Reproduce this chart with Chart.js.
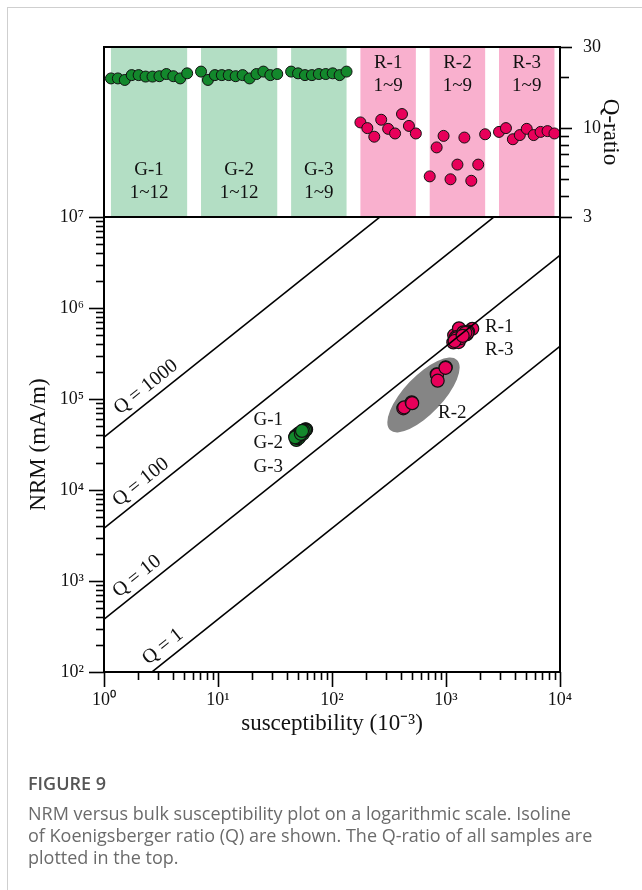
<!DOCTYPE html>
<html>
<head>
<meta charset="utf-8">
<script src="https://cdn.jsdelivr.net/npm/chart.js@4.4.1/dist/chart.umd.min.js"></script>
<style>
  body { margin: 0; background: #fff; }
  #page { position: relative; width: 642px; height: 890px; overflow: hidden; background: #fff; }
  #page canvas { position: absolute; left: 0; top: 0; }
  .frame { position: absolute; left: 7px; top: 7px; width: 700px; height: 950px; border-left: 1px solid #cfcfcf; border-top: 1px solid #cfcfcf; }
  .caption { position: absolute; left: 28px; top: 772px; width: 614px; white-space: nowrap; font-family: "Open Sans", sans-serif; font-size: 18px; line-height: 22px; color: #6b6b6b; }
  .caption .fig { font-weight: 600; color: #555; margin-bottom: 8px; }
</style>
</head>
<body>
<div id="page">
  <div class="frame"></div>
  <canvas id="qRatio" width="642" height="890"></canvas>
  <canvas id="nrmPlot" width="642" height="890"></canvas>
  <div class="caption">
    <div class="fig">FIGURE 9</div>
    NRM versus bulk susceptibility plot on a logarithmic scale. Isoline<br>
    of Koenigsberger ratio (Q) are shown. The Q-ratio of all samples are<br>
    plotted in the top.
  </div>
</div>
<script>
// sites and sample ranges
const sites = ['G-1', 'G-2', 'G-3', 'R-1', 'R-2', 'R-3'];
const siteRanges = ['1~12', '1~12', '1~9', '1~9', '1~9', '1~9'];

// Q-ratio per sample
const qG1 = [19.6, 19.6, 19.2, 20.5, 20.5, 20.1, 20.1, 20.2, 20.8, 20.2, 19.6, 21.0];
const qG2 = [21.5, 19.2, 20.5, 20.5, 20.5, 20.2, 20.5, 19.6, 20.8, 21.5, 20.5, 20.8];
const qG3 = [21.5, 21.0, 20.5, 20.5, 20.8, 20.8, 21.0, 20.5, 21.5];
const qR1 = [10.8, 10.0, 8.9, 11.2, 9.9, 9.3, 12.1, 10.3, 9.3];
const qR2 = [5.2, 7.7, 9.0, 5.0, 6.1, 8.8, 4.9, 6.1, 9.2];
const qR3 = [9.5, 10.0, 8.6, 9.1, 9.9, 9.1, 9.5, 9.6, 9.3];

// bulk susceptibility (10^-3 SI) and NRM (mA/m)
const suscG = [50.1, 52.3, 48.7, 55.0, 57.2, 51.4, 49.5, 53.8, 58.6, 56.1, 50.8, 54.2,
               47.9, 51.0, 53.1, 56.8, 59.3, 49.2, 52.7, 55.6, 57.9, 50.4, 48.5, 53.5,
               51.8, 54.9, 58.1, 49.9, 52.0, 56.4, 47.5, 53.3, 54.6];
const nrmG  = [3.73e4, 3.90e4, 3.55e4, 4.28e4, 4.46e4, 3.93e4, 3.78e4, 4.13e4, 4.63e4, 4.31e4, 3.78e4, 4.33e4,
               3.91e4, 3.72e4, 4.14e4, 4.42e4, 4.62e4, 3.78e4, 4.11e4, 4.14e4, 4.58e4, 4.12e4, 3.78e4, 4.23e4,
               4.23e4, 4.38e4, 4.53e4, 3.89e4, 4.11e4, 4.46e4, 3.79e4, 4.15e4, 4.46e4];
const suscR2 = [422, 430, 500, 505, 829, 835, 845, 994, 990];
const nrmR2  = [7.9e4, 8.1e4, 9.2e4, 9.0e4, 1.87e5, 1.85e5, 1.59e5, 2.23e5, 2.20e5];
const suscR13 = [1250, 1380, 1520, 1180, 1450, 1700, 1300, 1220, 1560,
                 1160, 1420, 1290, 1540, 1230, 1350, 1480, 1190, 1400];
const nrmR13  = [5.13e5, 5.24e5, 5.14e5, 5.02e5, 5.45e5, 5.90e5, 5.98e5, 4.78e5, 5.51e5,
                 4.19e5, 5.40e5, 4.22e5, 5.33e5, 4.63e5, 4.67e5, 5.34e5, 4.34e5, 4.95e5];

// Koenigsberger isolines, Q = NRM / (k * H)
const qLines = [1, 10, 100, 1000];
const fieldH = 38; // A/m

const serif = "'Liberation Serif', 'Times New Roman', serif";
const GREEN = '#13882c';
const PINK = '#e8005a';

const SUP = { '0': '\u2070', '1': '\u00b9', '2': '\u00b2', '3': '\u00b3', '4': '\u2074',
              '5': '\u2075', '6': '\u2076', '7': '\u2077', '8': '\u2078', '9': '\u2079', '-': '\u207b' };
const sup = s => String(s).split('').map(c => SUP[c]).join('');

function logTicks(lo, hi) {
  const out = [];
  for (let d = lo; d < hi; d++) {
    for (let m = 1; m < 10; m++) out.push(m * Math.pow(10, d));
  }
  out.push(Math.pow(10, hi));
  return out;
}
const isDecade = v => Math.abs(Math.log10(v) - Math.round(Math.log10(v))) < 1e-9;
const decadeLabel = v => isDecade(v) ? '10' + sup(Math.round(Math.log10(v))) : '';

// tick marks drawn outside the plot box, long on decades
function drawTicks(ctx, area, scale, side, values, isMajor, majorLen, minorLen) {
  ctx.save();
  ctx.strokeStyle = '#000';
  ctx.lineWidth = 1.6;
  values.forEach(v => {
    const p = Math.round(scale.getPixelForValue(v)) + 0.5;
    const len = isMajor(v) ? majorLen : minorLen;
    ctx.beginPath();
    if (side === 'left') { ctx.moveTo(area.left, p); ctx.lineTo(area.left - len, p); }
    if (side === 'right') { ctx.moveTo(area.right, p); ctx.lineTo(area.right + len, p); }
    if (side === 'bottom') { ctx.moveTo(p, area.bottom); ctx.lineTo(p, area.bottom + len); }
    ctx.stroke();
  });
  ctx.restore();
}

function drawBox(ctx, area) {
  ctx.save();
  ctx.strokeStyle = '#000';
  ctx.lineWidth = 2;
  ctx.strokeRect(area.left, area.top, area.right - area.left, area.bottom - area.top);
  ctx.restore();
}

// ---------- top panel: Q-ratio by sample ----------
const qSites = [qG1, qG2, qG3, qR1, qR2, qR3];
const slotStart = [];
let nextSlot = 1;
qSites.forEach(q => { slotStart.push(nextSlot); nextSlot += q.length + 1; });

const qPoints = (from, to) => qSites.slice(from, to).flatMap((q, i) =>
  q.map((v, j) => ({ x: slotStart[from + i] + j, y: v })));

const qTickVals = [3, 4, 5, 6, 7, 8, 9, 10, 20, 30];
const qLabelled = [3, 10, 30];

const sitePanels = {
  id: 'sitePanels',
  beforeDatasetsDraw(chart) {
    const { ctx, chartArea: a, scales: { x, y } } = chart;
    ctx.save();
    qSites.forEach((q, i) => {
      const x0 = x.getPixelForValue(slotStart[i]);
      const x1 = x.getPixelForValue(slotStart[i] + q.length - 1);
      ctx.fillStyle = i < 3 ? '#b3dec4' : '#f9b0ce';
      ctx.fillRect(x0, a.top, x1 - x0, a.bottom - a.top);
      const cx = (x0 + x1) / 2;
      const rows = i < 3 ? [5.7, 4.15] : [24.3, 17.6];
      ctx.fillStyle = '#111';
      ctx.font = '19px ' + serif;
      ctx.textAlign = 'center';
      ctx.textBaseline = 'middle';
      ctx.fillText(sites[i], cx, y.getPixelForValue(rows[0]));
      ctx.fillText(siteRanges[i], cx, y.getPixelForValue(rows[1]));
    });
    ctx.restore();
  },
  afterDraw(chart) {
    const { ctx, chartArea: a, scales: { y } } = chart;
    drawBox(ctx, a);
    drawTicks(ctx, a, y, 'right', qTickVals, v => qLabelled.includes(v), 12, 9);
  }
};

new Chart(document.getElementById('qRatio'), {
  type: 'scatter',
  data: {
    datasets: [
      { data: qPoints(0, 3), backgroundColor: GREEN, borderColor: '#111', borderWidth: 1, pointRadius: 5.5 },
      { data: qPoints(3, 6), backgroundColor: PINK, borderColor: '#111', borderWidth: 1, pointRadius: 5.5 }
    ]
  },
  options: {
    responsive: false,
    animation: false,
    layout: { padding: { left: 104, top: 47, bottom: 673, right: 14 } },
    plugins: { legend: { display: false }, tooltip: { enabled: false } },
    scales: {
      x: { type: 'linear', min: 0, max: 65.8, display: false },
      y: {
        type: 'logarithmic', position: 'right', min: 3, max: 30,
        afterBuildTicks: s => { s.ticks = qTickVals.map(v => ({ value: v })); },
        afterFit: s => { s.width = 68; },
        grid: { display: false },
        border: { display: false },
        ticks: {
          padding: 15, autoSkip: false, color: '#111',
          font: { family: serif, size: 18 },
          callback: v => qLabelled.includes(v) ? String(v) : ''
        },
        title: { display: true, text: 'Q-ratio', color: '#111', font: { family: serif, size: 23 }, padding: { top: 4 } }
      }
    }
  },
  plugins: [sitePanels]
});

// ---------- main panel: NRM versus susceptibility ----------
const xTickVals = logTicks(0, 4);
const yTickVals = logTicks(2, 7);

const isolines = qLines.map(q => ({
  data: [{ x: 0.5, y: q * fieldH * 0.5 }, { x: 2e4, y: q * fieldH * 2e4 }],
  showLine: true, pointRadius: 0, borderColor: '#000', borderWidth: 1.6
}));

const isoLabelAt = { 1: 3.87, 10: 2.29, 100: 2.48, 1000: 2.75 };
const clusterLabels = [
  { text: 'G-1', k: 37.2, nrm: 5.87e4, align: 'right' },
  { text: 'G-2', k: 37.2, nrm: 3.28e4, align: 'right' },
  { text: 'G-3', k: 37.2, nrm: 1.79e4, align: 'right' },
  { text: 'R-1', k: 2198, nrm: 6.24e5, align: 'left' },
  { text: 'R-3', k: 2198, nrm: 3.45e5, align: 'left' },
  { text: 'R-2', k: 851, nrm: 7.01e4, align: 'left' }
];
const r2Ellipse = { from: [323, 4.56e4], to: [1248, 2.69e5], halfWidth: 19 };

const nrmDecor = {
  id: 'nrmDecor',
  beforeDatasetsDraw(chart) {
    const { ctx, scales: { x, y } } = chart;
    const x0 = x.getPixelForValue(r2Ellipse.from[0]), y0 = y.getPixelForValue(r2Ellipse.from[1]);
    const x1 = x.getPixelForValue(r2Ellipse.to[0]), y1 = y.getPixelForValue(r2Ellipse.to[1]);
    ctx.save();
    ctx.fillStyle = '#858585';
    ctx.beginPath();
    ctx.ellipse((x0 + x1) / 2, (y0 + y1) / 2, Math.hypot(x1 - x0, y1 - y0) / 2, r2Ellipse.halfWidth,
                Math.atan2(y1 - y0, x1 - x0), 0, Math.PI * 2);
    ctx.fill();
    ctx.restore();
  },
  afterDraw(chart) {
    const { ctx, chartArea: a, scales: { x, y } } = chart;
    ctx.save();
    ctx.fillStyle = '#111';
    ctx.font = '20px ' + serif;
    ctx.textAlign = 'center';
    ctx.textBaseline = 'middle';
    qLines.forEach(q => {
      const k = isoLabelAt[q];
      const px = x.getPixelForValue(k), py = y.getPixelForValue(q * fieldH * k);
      const qx = x.getPixelForValue(k * 10), qy = y.getPixelForValue(q * fieldH * k * 10);
      const ang = Math.atan2(qy - py, qx - px);
      ctx.save();
      ctx.translate(px + 13 * Math.sin(ang), py - 13 * Math.cos(ang));
      ctx.rotate(ang);
      ctx.fillText('Q = ' + q, 0, 0);
      ctx.restore();
    });
    ctx.font = '19px ' + serif;
    clusterLabels.forEach(l => {
      ctx.textAlign = l.align;
      ctx.fillText(l.text, x.getPixelForValue(l.k), y.getPixelForValue(l.nrm));
    });
    ctx.restore();
    drawBox(ctx, a);
    drawTicks(ctx, a, x, 'bottom', xTickVals, isDecade, 15, 8);
    drawTicks(ctx, a, y, 'left', yTickVals, isDecade, 15, 8);
  }
};

const toPoints = (xs, ys) => xs.map((v, i) => ({ x: v, y: ys[i] }));

new Chart(document.getElementById('nrmPlot'), {
  type: 'scatter',
  data: {
    datasets: [
      ...isolines,
      { data: toPoints(suscG, nrmG), backgroundColor: GREEN, borderColor: '#111', borderWidth: 1.2, pointRadius: 6.5 },
      { data: toPoints(suscR2, nrmR2), backgroundColor: PINK, borderColor: '#111', borderWidth: 1.2, pointRadius: 6.5 },
      { data: toPoints(suscR13, nrmR13), backgroundColor: PINK, borderColor: '#111', borderWidth: 1.2, pointRadius: 6.5 }
    ]
  },
  options: {
    responsive: false,
    animation: false,
    layout: { padding: { left: 21, right: 82, top: 217, bottom: 148 } },
    plugins: { legend: { display: false }, tooltip: { enabled: false } },
    scales: {
      x: {
        type: 'logarithmic', position: 'bottom', min: 1, max: 1e4,
        afterBuildTicks: s => { s.ticks = xTickVals.map(v => ({ value: v })); },
        afterFit: s => { s.height = 70; },
        grid: { display: false },
        border: { display: false },
        ticks: { padding: 9, autoSkip: false, maxRotation: 0, color: '#111',
                 font: { family: serif, size: 18 }, callback: decadeLabel },
        title: { display: true, text: 'susceptibility (10' + sup('-3') + ')', color: '#111',
                 font: { family: serif, size: 23 }, padding: { bottom: 4 } }
      },
      y: {
        type: 'logarithmic', position: 'left', min: 1e2, max: 1e7,
        afterBuildTicks: s => { s.ticks = yTickVals.map(v => ({ value: v })); },
        afterFit: s => { s.width = 83; },
        grid: { display: false },
        border: { display: false },
        ticks: { padding: 12, autoSkip: false, color: '#111',
                 font: { family: serif, size: 18 }, callback: decadeLabel },
        title: { display: true, text: 'NRM (mA/m)', color: '#111',
                 font: { family: serif, size: 23 }, padding: { top: 4 } }
      }
    }
  },
  plugins: [nrmDecor]
});
</script>
</body>
</html>
